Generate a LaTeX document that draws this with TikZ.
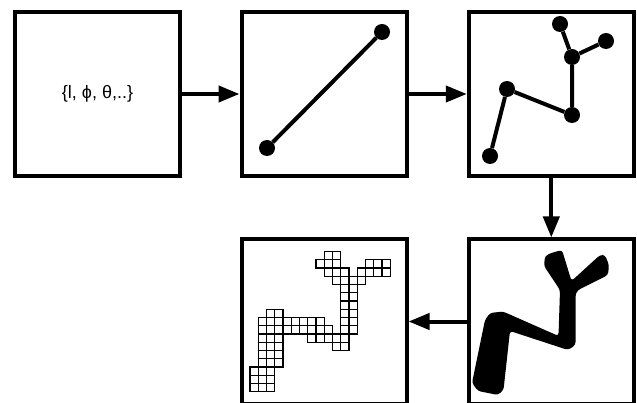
\documentclass[tikz,border=0pt]{standalone}
\usepackage{fontspec}
\setmainfont{Liberation Sans}
\usetikzlibrary{arrows.meta}

\begin{document}
\begin{tikzpicture}[x=1pt,y=-1pt,
  panel/.style={draw, line width=4pt, minimum width=165pt, minimum height=164pt, inner sep=0pt},
  flow/.style={line width=4pt, -{Triangle[length=21pt,width=16pt]}},
  dot/.style={circle, fill=black, minimum size=16pt, inner sep=0pt},
  bond/.style={line width=4pt},
  cell/.style={draw, line width=1.3pt}]
  \useasboundingbox (0,0) rectangle (637,403);

  % five panels
  \node[panel] (p1) at (97.5,94) {};
  \node[panel] (p2) at (324,94) {};
  \node[panel] (p3) at (551.3,94) {};
  \node[panel] (p5) at (551.3,321.5) {};
  \node[panel] (p4) at (324,321.5) {};

  % parameters
  \node[font=\fontsize{18}{20}\selectfont] (params) at (97.5,94) {\{l, ϕ, θ,..\}};

  % straight segment
  \node[dot] (s1) at (267,148) {};
  \node[dot] (s2) at (382,32) {};
  \draw[bond] (s1) -- (s2);

  % branched skeleton
  \node[dot] (a) at (490,156) {};
  \node[dot] (b) at (507,89) {};
  \node[dot] (c) at (572,115) {};
  \node[dot] (d) at (572,57) {};
  \node[dot] (e) at (560,24) {};
  \node[dot] (f) at (606,41) {};
  \draw[bond] (a) -- (b) -- (c) -- (d) -- (e);
  \draw[bond] (d) -- (f);

  % thickened body
  \fill[rounded corners=3pt]
    (472,383) -- (485,320) -- (490,313) -- (503,311.5) -- (558.5,336)
    -- (560,290) -- (544,266) -- (545,256) -- (551,253) -- (562,250)
    -- (571.5,281) -- (600,255) -- (605,255) -- (609,265) -- (608,275)
    -- (578,290) -- (575.5,294) -- (575.5,345) -- (568,350) -- (510,331)
    -- (503.5,390) -- (498,395) -- (478,391) -- cycle;

  % voxelised body
  \foreach \c/\r in {0/0,1/0,2/0, 0/1,1/1,2/1, 0/2,1/2,2/2,
      1/3,2/3,3/3, 1/4,2/4,3/4, 1/5,2/5,3/5, 1/6,2/6,3/6,
      1/7,2/7,3/7,4/7,5/7,6/7,7/7,8/7,9/7,
      1/8,2/8,3/8,4/8,5/8,6/8,7/8,8/8,
      2/9,3/9,
      7/6,8/6,9/6,10/6,11/6, 10/5,11/5,
      11/7,12/7, 11/8,12/8, 11/9,12/9, 11/10,12/10, 11/11,12/11, 11/12,12/12,
      10/13,11/13,12/13,13/13,
      9/14,10/14,11/14,13/14,14/14,15/14,16/14,
      8/15,9/15,10/15,14/15,15/15,16/15,
      9/16,10/16}
    \draw[cell] ({250+\c*8.25},{391.7-\r*8.25}) rectangle ++(8.25,-8.25);

  % flow between panels
  \draw[flow] (p1.east) -- (p2.west);
  \draw[flow] (p2.east) -- (p3.west);
  \draw[flow] (p3.south) -- (p5.north);
  \draw[flow] (p5.west) -- (p4.east);
\end{tikzpicture}
\end{document}
